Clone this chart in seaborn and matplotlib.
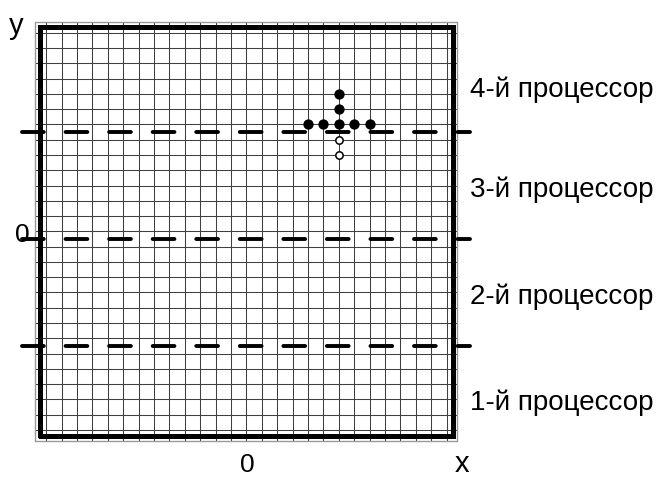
import matplotlib
matplotlib.use("Agg")
import matplotlib.pyplot as plt
import seaborn as sns
import pandas as pd

# grid cells (26 x 26)
grid_n = 26
grid_lo, grid_hi = -0.75, 26.7

# points
filled_x = [17, 18, 19, 20, 21, 19, 19]
filled_y = [20, 20, 20, 20, 20, 21, 22]
open_x = [19, 19]
open_y = [19, 18]

# processor boundaries and labels
bounds_y = [5.5, 12.5, 19.5]
proc_labels = ['1-й процессор', '2-й процессор', '3-й процессор', '4-й процессор']
proc_y = [1.8, 8.7, 15.7, 22.3]

sns.set_style("white")
plt.rcParams['font.family'] = ['Liberation Sans', 'DejaVu Sans']
plt.rcParams['text.color'] = 'black'

fig = plt.figure(figsize=(6.66, 4.8), dpi=100)
ax = fig.add_axes([0, 0, 1, 1])
ax.set_xlim(-46.1 / 15.4, (666 - 46.1) / 15.4)
ax.set_ylim((430 - 480) / 15.28, 430 / 15.28)
ax.axis('off')

# thin grid
ticks = list(range(grid_n + 1))
ax.vlines(ticks, grid_lo, grid_hi, color='0.25', lw=0.75, zorder=1)
ax.hlines(ticks, grid_lo, grid_hi, color='0.25', lw=0.75, zorder=1)

# outer thin gray frame
ax.plot([grid_lo, grid_hi, grid_hi, grid_lo, grid_lo],
        [grid_lo, grid_lo, grid_hi, grid_hi, grid_lo], color='0.6', lw=1, zorder=2)
# thick black frame
b0, b1 = -0.4, 26.4
ax.plot([b0, b1, b1, b0, b0], [b0, b0, b1, b1, b0], color='black', lw=3.6,
        solid_joinstyle='miter', zorder=3)

# dashed processor boundaries
for yb in bounds_y:
    ax.plot([-1.56, 27.5], [yb, yb], color='black', lw=2.8,
            dashes=(5.6, 5.6), dash_capstyle='round', zorder=4)

df_f = pd.DataFrame({'x': filled_x, 'y': filled_y})
df_o = pd.DataFrame({'x': open_x, 'y': open_y})
sns.scatterplot(data=df_f, x='x', y='y', ax=ax, s=55, color='black',
                edgecolor='black', linewidth=0, zorder=5)
sns.scatterplot(data=df_o, x='x', y='y', ax=ax, s=28, color='white',
                edgecolor='black', linewidth=1.1, zorder=5)
ax.set_xlabel('')
ax.set_ylabel('')

for lab, yl in zip(proc_labels, proc_y):
    ax.text(27.5, yl, lab, fontsize=20, color='black', ha='left', va='center')

ax.text(13.08, -2.73, '0', fontsize=19, color='black', ha='center', va='baseline')
ax.text(-1.53, 12.32, '0', fontsize=19, color='black', ha='center', va='baseline')
ax.text(26.98, -2.75, 'x', fontsize=21, color='black', ha='center', va='baseline')
ax.text(-1.95, 25.9, 'y', fontsize=21, color='black', ha='center', va='baseline')

fig.savefig('out.png', dpi=100)
